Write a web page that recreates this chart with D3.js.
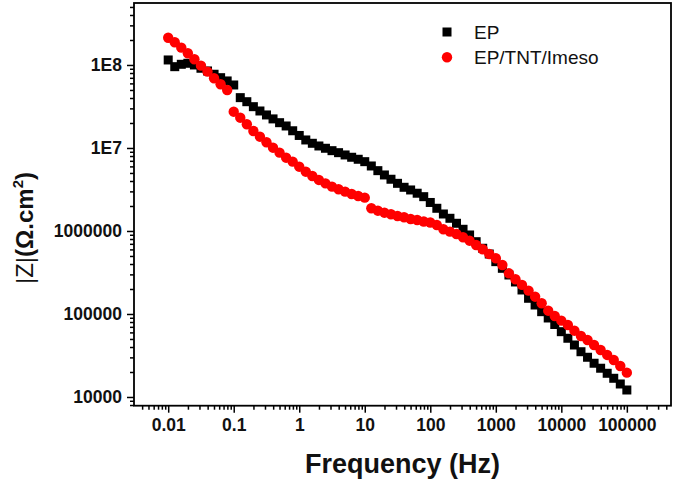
<!DOCTYPE html>
<html>
<head>
<meta charset="utf-8">
<script src="https://cdn.jsdelivr.net/npm/d3@7"></script>
<style>
  body { margin: 0; background: #fff; }
  svg { display: block; font-family: 'Liberation Sans', Arial, sans-serif; }
</style>
</head>
<body>
<div id="chart"></div>
<script>
// Frequency (Hz), 10 points per decade
var frequency = [
  0.01, 0.01259, 0.01585, 0.01995, 0.02512, 0.03162, 0.03981, 0.05012, 0.0631, 0.07943,
  0.1, 0.1259, 0.1585, 0.1995, 0.2512, 0.3162, 0.3981, 0.5012, 0.631, 0.7943,
  1, 1.259, 1.585, 1.995, 2.512, 3.162, 3.981, 5.012, 6.31, 7.943,
  10, 12.59, 15.85, 19.95, 25.12, 31.62, 39.81, 50.12, 63.1, 79.43,
  100, 125.9, 158.5, 199.5, 251.2, 316.2, 398.1, 501.2, 631, 794.3,
  1000, 1259, 1585, 1995, 2512, 3162, 3981, 5012, 6310, 7943,
  10000, 12590, 15850, 19950, 25120, 31620, 39810, 50120, 63100, 79430,
  100000
];

// |Z| of EP
var zEP = [
  1.149e8, 9.54e7, 1.019e8, 1.048e8, 1.0e8, 9.13e7, 8.47e7, 7.73e7, 7.03e7, 6.42e7,
  5.74e7, 4.04e7, 3.61e7, 3.145e7, 2.79e7, 2.50e7, 2.24e7, 2.017e7, 1.841e7, 1.612e7,
  1.415e7, 1.249e7, 1.139e7, 1.057e7, 9.92e6, 9.28e6, 8.78e6, 8.24e6, 7.73e6, 7.31e6,
  6.84e6, 6.07e6, 5.33e6, 4.73e6, 4.20e6, 3.75e6, 3.36e6, 3.12e6, 2.85e6, 2.59e6,
  2.205e6, 1.877e6, 1.602e6, 1.422e6, 1.238e6, 1.048e6, 8.95e5, 7.43e5, 6.19e5, 5.28e5,
  4.27e5, 3.55e5, 2.95e5, 2.43e5, 1.946e5, 1.546e5, 1.283e5, 1.066e5, 8.95e4, 7.47e4,
  6.12e4, 5.10e4, 4.23e4, 3.51e4, 3.01e4, 2.55e4, 2.22e4, 1.93e4, 1.68e4, 1.434e4,
  1.214e4
];

// |Z| of EP/TNT/Imeso
var zTNT = [
  2.13e8, 1.877e8, 1.616e8, 1.384e8, 1.171e8, 9.81e7, 8.31e7, 6.91e7, 5.85e7, 5.0e7,
  2.737e7, 2.317e7, 1.93e7, 1.602e7, 1.368e7, 1.171e7, 1.008e7, 8.78e6, 7.64e6, 6.84e6,
  5.95e6, 5.18e6, 4.60e6, 4.12e6, 3.75e6, 3.42e6, 3.18e6, 2.98e6, 2.79e6, 2.64e6,
  2.52e6, 1.877e6, 1.756e6, 1.661e6, 1.589e6, 1.516e6, 1.463e6, 1.395e6, 1.357e6, 1.302e6,
  1.266e6, 1.181e6, 1.048e6, 9.81e5, 9.20e5, 8.40e5, 7.64e5, 6.78e5, 6.02e5, 5.28e5,
  4.69e5, 3.89e5, 3.09e5, 2.62e5, 2.24e5, 1.909e5, 1.616e5, 1.346e5, 1.096e5, 9.46e4,
  8.31e4, 7.37e4, 6.29e4, 5.43e4, 4.86e4, 4.23e4, 3.68e4, 3.21e4, 2.79e4, 2.36e4,
  1.963e4
];

var seriesNames = ['EP', 'EP/TNT/Imeso'];
var xTickValues = [0.01, 0.1, 1, 10, 100, 1000, 10000, 100000];
var xTickLabels = ['0.01', '0.1', '1', '10', '100', '1000', '10000', '100000'];
var yTickValues = [1e4, 1e5, 1e6, 1e7, 1e8];
var yTickLabels = ['10000', '100000', '1000000', '1E7', '1E8'];

var width = 675, height = 484;
var margin = { top: 3, right: 4, bottom: 78.3, left: 134 };

var svg = d3.select('#chart').append('svg')
  .attr('width', width)
  .attr('height', height);

var x = d3.scaleLog()
  .domain([0.003006, 472000])
  .range([margin.left, width - margin.right]);

var y = d3.scaleLog()
  .domain([7852, 5.58e8])
  .range([height - margin.bottom, margin.top]);

//minor ticks: 2..9 of every decade inside the domain
function minorTicks(scale) {
  var dom = scale.domain();
  return scale.ticks(80).filter(function (t) {
    var m = t / Math.pow(10, Math.floor(Math.log10(t) + 1e-9));
    return Math.round(m) !== 1 && t >= dom[0] && t <= dom[1];
  });
}

var xAxis = d3.axisBottom(x)
  .tickValues(xTickValues)
  .tickFormat(function (d, i) { return xTickLabels[i]; })
  .tickSize(7)
  .tickPadding(6);

var xMinor = d3.axisBottom(x)
  .tickValues(minorTicks(x))
  .tickFormat('')
  .tickSize(4);

var yAxis = d3.axisLeft(y)
  .tickValues(yTickValues)
  .tickFormat(function (d, i) { return yTickLabels[i]; })
  .tickSize(7)
  .tickPadding(5);

var yMinor = d3.axisLeft(y)
  .tickValues(minorTicks(y))
  .tickFormat('')
  .tickSize(4);

var bottom = height - margin.bottom;

[xAxis, xMinor].forEach(function (ax) {
  svg.append('g')
    .attr('class', 'x axis')
    .attr('transform', 'translate(0,' + bottom + ')')
    .call(ax);
});

[yAxis, yMinor].forEach(function (ax) {
  svg.append('g')
    .attr('class', 'y axis')
    .attr('transform', 'translate(' + margin.left + ',0)')
    .call(ax);
});

svg.selectAll('.axis .domain').remove();
svg.selectAll('.axis line')
  .attr('stroke', '#000')
  .attr('stroke-width', 1.5);
svg.selectAll('.axis text')
  .attr('fill', '#111')
  .style('font-size', '17.5px')
  .style('font-weight', 'bold')
  .style('font-family', "'Liberation Sans', Arial, sans-serif");

//frame
svg.append('rect')
  .attr('x', margin.left)
  .attr('y', margin.top)
  .attr('width', width - margin.right - margin.left)
  .attr('height', bottom - margin.top)
  .attr('fill', 'none')
  .attr('stroke', '#000')
  .attr('stroke-width', 1.8);

var epData = frequency.map(function (f, i) { return { f: f, z: zEP[i] }; });
var tntData = frequency.map(function (f, i) { return { f: f, z: zTNT[i] }; });

var sq = 9;
svg.append('g')
  .selectAll('rect')
  .data(epData)
  .enter()
  .append('rect')
  .attr('x', function (d) { return x(d.f) - sq / 2; })
  .attr('y', function (d) { return y(d.z) - sq / 2; })
  .attr('width', sq)
  .attr('height', sq)
  .attr('fill', '#000');

svg.append('g')
  .selectAll('circle')
  .data(tntData)
  .enter()
  .append('circle')
  .attr('cx', function (d) { return x(d.f); })
  .attr('cy', function (d) { return y(d.z); })
  .attr('r', 5.2)
  .attr('fill', '#ff0000');

//legend
var legend = svg.append('g');
legend.append('rect')
  .attr('x', 442.5).attr('y', 27.5)
  .attr('width', sq).attr('height', sq)
  .attr('fill', '#000');
legend.append('circle')
  .attr('cx', 447).attr('cy', 57.3).attr('r', 5.2)
  .attr('fill', '#ff0000');
legend.selectAll('text')
  .data(seriesNames)
  .enter()
  .append('text')
  .attr('x', 474)
  .attr('y', function (d, i) { return 39 + i * 24.5; })
  .style('font-size', '19px')
  .attr('fill', '#111')
  .text(function (d) { return d; });

//axis titles
svg.append('text')
  .attr('x', (margin.left + width - margin.right) / 2)
  .attr('y', 473)
  .attr('text-anchor', 'middle')
  .style('font-size', '27px')
  .style('font-weight', 'bold')
  .attr('fill', '#111')
  .text('Frequency (Hz)');

var yTitle = svg.append('text')
  .attr('transform', 'translate(33,228) rotate(-90)')
  .attr('text-anchor', 'middle')
  .style('font-size', '24px')
  .attr('fill', '#111');
yTitle.append('tspan').text('|Z|');
yTitle.append('tspan').style('font-weight', 'bold').text('(\u03A9.cm');
yTitle.append('tspan').style('font-weight', 'bold').style('font-size', '15px')
  .attr('dy', -10).text('2');
yTitle.append('tspan').style('font-weight', 'bold').attr('dy', 10).text(')');
</script>
</body>
</html>
